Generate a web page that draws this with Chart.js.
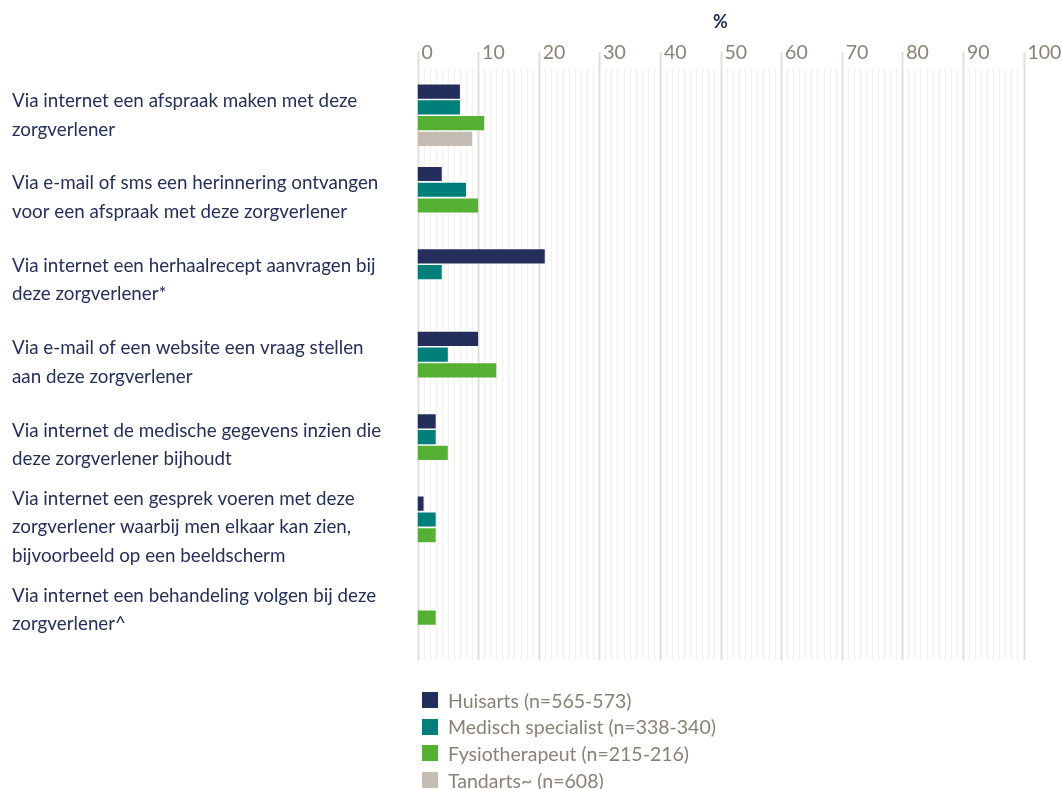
<!DOCTYPE html>
<html>
<head>
<meta charset="utf-8">
<script src="https://cdn.jsdelivr.net/npm/chart.js@4"></script>
<style>
  html, body { margin: 0; padding: 0; background: #ffffff; }
  #wrap { position: relative; width: 1062px; height: 789px; }
  #legend { position: absolute; left: 422px; top: 687px; font-family: Lato, "Open Sans", sans-serif; font-size: 19.5px; color: #8b8075; }
  .li { display: flex; align-items: center; height: 26.6px; }
  .sw { width: 16px; height: 16px; margin-right: 10px; }
</style>
</head>
<body>
<div id="wrap">
  <canvas id="c" width="1062" height="789"></canvas>
  <div id="legend"></div>
</div>
<script>
const categories = [
  ["Via internet een afspraak maken met deze", "zorgverlener"],
  ["Via e-mail of sms een herinnering ontvangen", "voor een afspraak met deze zorgverlener"],
  ["Via internet een herhaalrecept aanvragen bij", "deze zorgverlener*"],
  ["Via e-mail of een website een vraag stellen", "aan deze zorgverlener"],
  ["Via internet de medische gegevens inzien die", "deze zorgverlener bijhoudt"],
  ["Via internet een gesprek voeren met deze", "zorgverlener waarbij men elkaar kan zien,", "bijvoorbeeld op een beeldscherm"],
  ["Via internet een behandeling volgen bij deze", "zorgverlener^"]
];
const seriesNames = [
  "Huisarts (n=565-573)",
  "Medisch specialist (n=338-340)",
  "Fysiotherapeut (n=215-216)",
  "Tandarts~ (n=608)"
];
const huisarts = [7, 4, 21, 10, 3, 1, null];
const medischSpecialist = [7, 8, 4, 5, 3, 3, null];
const fysiotherapeut = [11, 10, null, 13, 5, 3, 3];
const tandarts = [9, null, null, null, null, null, null];
const xTicks = [0, 10, 20, 30, 40, 50, 60, 70, 80, 90, 100];
const axisTitle = "%";

const colors = ["#232e5c", "#007e7a", "#56b034", "#c5bdb3"];
const seriesValues = [huisarts, medischSpecialist, fysiotherapeut, tandarts];

const gridPlugin = {
  id: 'customGrid',
  beforeDatasetsDraw(chart) {
    const ctx = chart.ctx;
    const xs = chart.scales.x;
    const area = chart.chartArea;
    ctx.save();
    for (let v = xs.min; v <= xs.max; v++) {
      const px = Math.round(xs.getPixelForValue(v)) + 0.5;
      const major = xTicks.includes(v);
      ctx.beginPath();
      ctx.strokeStyle = major ? '#e3ded8' : '#f4f2ef';
      ctx.lineWidth = major ? 2 : 1.5;
      ctx.moveTo(px, major ? area.top - 22 : area.top - 6);
      ctx.lineTo(px, area.bottom + 9);
      ctx.stroke();
    }
    ctx.restore();
  }
};

const chart = new Chart(document.getElementById('c'), {
  type: 'bar',
  data: {
    labels: categories,
    datasets: seriesNames.map((n, i) => ({
      label: n,
      data: seriesValues[i],
      backgroundColor: colors[i],
      borderWidth: 0,
      categoryPercentage: 0.765,
      barPercentage: 0.9
    }))
  },
  options: {
    indexAxis: 'y',
    responsive: false,
    animation: false,
    layout: { padding: { left: 12, right: 38.5, top: 0, bottom: 138 } },
    plugins: {
      legend: { display: false },
      tooltip: { enabled: false }
    },
    scales: {
      x: {
        position: 'top',
        min: 0,
        max: 100,
        afterBuildTicks(scale) { scale.ticks = xTicks.map(v => ({ value: v })); },
        afterFit(scale) { scale.height = 74; },
        grid: { display: false },
        border: { display: false },
        ticks: {
          align: 'start',
          labelOffset: 4,
          padding: 2,
          color: '#8b8075',
          font: { family: 'Lato, "Open Sans", sans-serif', size: 19.5 }
        },
        title: {
          display: true,
          text: axisTitle,
          color: '#232e5c',
          padding: { top: 11, bottom: 0 },
          font: { family: 'Lato, "Open Sans", sans-serif', size: 18, weight: 'bold' }
        }
      },
      y: {
        afterFit(scale) { scale.width = 405.5; },
        grid: { display: false },
        border: { display: false },
        ticks: {
          autoSkip: false,
          crossAlign: 'far',
          color: '#253059',
          font: { family: 'Lato, "Open Sans", sans-serif', size: 18.8, lineHeight: '28.5px' }
        }
      }
    }
  },
  plugins: [gridPlugin]
});

const legendEl = document.getElementById('legend');
chart.data.datasets.forEach(ds => {
  const row = document.createElement('div');
  row.className = 'li';
  const sw = document.createElement('span');
  sw.className = 'sw';
  sw.style.background = ds.backgroundColor;
  const tx = document.createElement('span');
  tx.textContent = ds.label;
  row.appendChild(sw);
  row.appendChild(tx);
  legendEl.appendChild(row);
});
</script>
</body>
</html>
